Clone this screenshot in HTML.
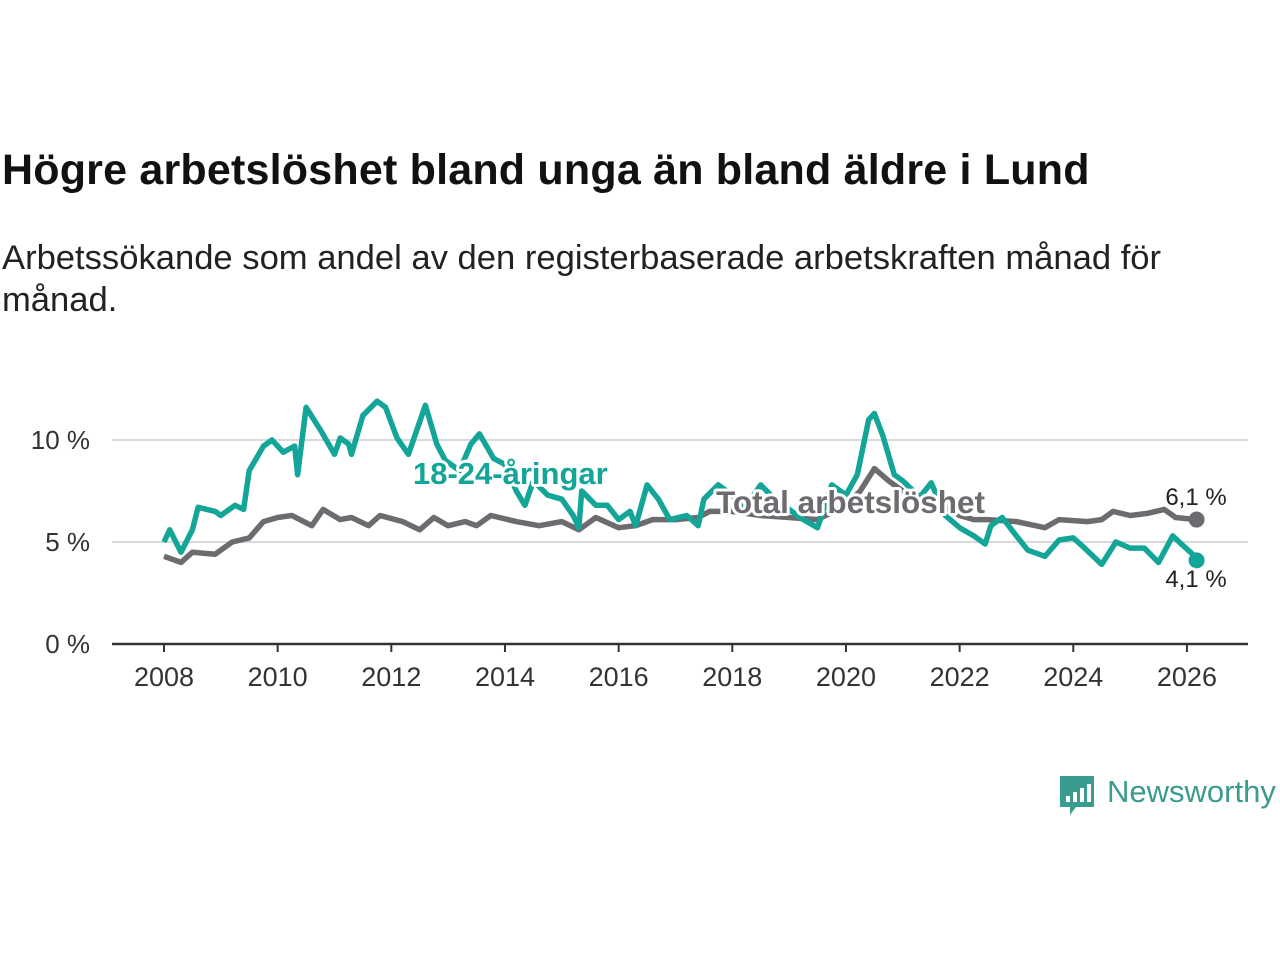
<!DOCTYPE html>
<html><head><meta charset="utf-8"><style>
body{margin:0;background:#fff;width:1280px;height:960px;overflow:hidden;font-family:"Liberation Sans","DejaVu Sans",sans-serif}
#title{position:absolute;left:2px;top:146px;font-size:43px;font-weight:bold;color:#111;margin:0;letter-spacing:0.2px}
#sub{position:absolute;left:2px;top:237px;font-size:34.6px;color:#222;line-height:42px;width:1275px}
svg{position:absolute;left:0;top:0}
</style></head><body>
<h1 id="title">Högre arbetslöshet bland unga än bland äldre i Lund</h1>
<div id="sub">Arbetssökande som andel av den registerbaserade arbetskraften månad för<br>månad.</div>
<svg id="chart" width="1280" height="960"></svg>
<script>
const yTicks=[0,5,10];
const xTicks=[2008,2010,2012,2014,2016,2018,2020,2022,2024,2026];
const youthDates=[2008.0,2008.1,2008.3,2008.5,2008.6,2008.9,2009.0,2009.25,2009.4,2009.5,2009.75,2009.9,2010.1,2010.3,2010.35,2010.5,2010.75,2011.0,2011.1,2011.25,2011.3,2011.5,2011.75,2011.9,2012.1,2012.3,2012.45,2012.6,2012.8,2012.95,2013.2,2013.4,2013.55,2013.8,2014.0,2014.2,2014.35,2014.5,2014.75,2015.0,2015.2,2015.3,2015.35,2015.6,2015.8,2016.0,2016.2,2016.3,2016.5,2016.7,2016.9,2017.2,2017.4,2017.5,2017.75,2018.0,2018.2,2018.5,2018.75,2019.0,2019.25,2019.5,2019.75,2020.0,2020.2,2020.4,2020.5,2020.65,2020.85,2021.0,2021.3,2021.5,2021.75,2022.0,2022.25,2022.45,2022.55,2022.75,2023.0,2023.2,2023.5,2023.75,2024.0,2024.2,2024.5,2024.75,2025.0,2025.25,2025.5,2025.75,2025.9,2026.1,2026.17];
const youthValues=[5.0,5.6,4.5,5.6,6.7,6.5,6.3,6.8,6.6,8.5,9.7,10.0,9.4,9.7,8.3,11.6,10.5,9.3,10.1,9.8,9.3,11.2,11.9,11.6,10.1,9.3,10.5,11.7,9.8,9.0,8.5,9.8,10.3,9.1,8.8,7.5,6.8,8.0,7.3,7.1,6.3,5.7,7.5,6.8,6.8,6.1,6.5,5.8,7.8,7.1,6.1,6.3,5.8,7.1,7.8,7.3,6.6,7.8,7.1,6.6,6.1,5.7,7.8,7.3,8.3,11.0,11.3,10.2,8.3,8.0,7.2,7.9,6.3,5.7,5.3,4.9,5.8,6.2,5.3,4.6,4.3,5.1,5.2,4.7,3.9,5.0,4.7,4.7,4.0,5.3,4.9,4.4,4.1];
const totalDates=[2008.0,2008.3,2008.5,2008.9,2009.2,2009.5,2009.75,2010.0,2010.25,2010.6,2010.8,2011.1,2011.3,2011.6,2011.8,2012.2,2012.5,2012.75,2013.0,2013.3,2013.5,2013.75,2014.2,2014.6,2015.0,2015.3,2015.6,2016.0,2016.3,2016.6,2017.0,2017.4,2017.6,2018.0,2018.5,2019.0,2019.5,2020.0,2020.25,2020.5,2020.75,2021.0,2021.5,2022.0,2022.25,2022.5,2023.0,2023.5,2023.75,2024.25,2024.5,2024.7,2025.0,2025.3,2025.6,2025.8,2026.17];
const totalValues=[4.3,4.0,4.5,4.4,5.0,5.2,6.0,6.2,6.3,5.8,6.6,6.1,6.2,5.8,6.3,6.0,5.6,6.2,5.8,6.0,5.8,6.3,6.0,5.8,6.0,5.6,6.2,5.7,5.8,6.1,6.1,6.2,6.5,6.5,6.3,6.2,6.1,6.8,7.5,8.6,8.0,7.5,7.1,6.3,6.1,6.1,6.0,5.7,6.1,6.0,6.1,6.5,6.3,6.4,6.6,6.2,6.1];
const X=v=>164+(v-2008)*56.83;
const Y=v=>644-v*20.4;
const svg=document.getElementById('chart');
const NS='http://www.w3.org/2000/svg';
function mk(t,a){const e=document.createElementNS(NS,t);for(const k in a)e.setAttribute(k,a[k]);svg.appendChild(e);return e;}
yTicks.forEach(t=>{
  if(t>0){const g=mk('line',{x1:112,x2:1248,y1:Y(t),y2:Y(t),stroke:'#d9d9d9','stroke-width':2});
  
  }
  const l=mk('text',{x:90,y:Y(t)+9,'text-anchor':'end','font-size':26,fill:'#333'});l.textContent=t+' %';
  
  
});
const ax=mk('line',{x1:112,x2:1248,y1:644,y2:644,stroke:'#333','stroke-width':2.5});


xTicks.forEach(t=>{
  const tk=mk('line',{x1:X(t),x2:X(t),y1:644,y2:652,stroke:'#333','stroke-width':2});
  
  
  const l=mk('text',{x:X(t),y:686,'text-anchor':'middle','font-size':27,fill:'#333'});l.textContent=t;
  
  
});
function pts(d,v){return d.map((x,i)=>X(x).toFixed(1)+','+Y(v[i]).toFixed(1)).join(' ');}
const gl=mk('polyline',{points:pts(totalDates,totalValues),fill:'none',stroke:'#6d6b70','stroke-width':5.5,'stroke-linejoin':'round'});


const tl=mk('polyline',{points:pts(youthDates,youthValues),fill:'none',stroke:'#13a597','stroke-width':5.5,'stroke-linejoin':'round'});


const lt=totalDates.length-1, ly=youthDates.length-1;
const d1=mk('circle',{cx:X(totalDates[lt]),cy:Y(totalValues[lt]),r:8,fill:'#6d6b70'});


const d2=mk('circle',{cx:X(youthDates[ly]),cy:Y(youthValues[ly]),r:8,fill:'#13a597'});


function lab(txt,x,y,fill,bold,size,name,anchor){
  const t=mk('text',{x:x,y:y,'font-size':size,fill:fill,'font-weight':bold?'bold':'normal','text-anchor':anchor||'start',stroke:'#fff','stroke-width':6,'paint-order':'stroke','stroke-linejoin':'round'});
  t.textContent=txt;
  
  
}
lab('18-24-åringar',413,484,'#13a597',true,31,'youth-series-label');
lab('Total arbetslöshet',716,513,'#6d6b70',true,31.5,'total-series-label');
lab('6,1 %',1196,505,'#222',false,24,'total-end-value','middle');
lab('4,1 %',1196,587,'#222',false,24,'youth-end-value','middle');
const lg=mk('g',{});


const r=document.createElementNS(NS,'path');r.setAttribute('d','M1060 776 h34 v31 h-18 l-6 8 v-8 h-10 z');r.setAttribute('fill','#3a9c8f');lg.appendChild(r);
[[1066,796,6],[1073,792,10],[1080,788,14],[1087,784,18]].forEach(b=>{const q=document.createElementNS(NS,'rect');q.setAttribute('x',b[0]);q.setAttribute('y',b[1]);q.setAttribute('width',4);q.setAttribute('height',b[2]);q.setAttribute('fill','#fff');lg.appendChild(q);});
const lt2=document.createElementNS(NS,'text');lt2.setAttribute('x',1107);lt2.setAttribute('y',802);lt2.setAttribute('font-size',31);lt2.setAttribute('fill','#3a9c8f');lt2.textContent='Newsworthy';lg.appendChild(lt2);
</script>
</body></html>
